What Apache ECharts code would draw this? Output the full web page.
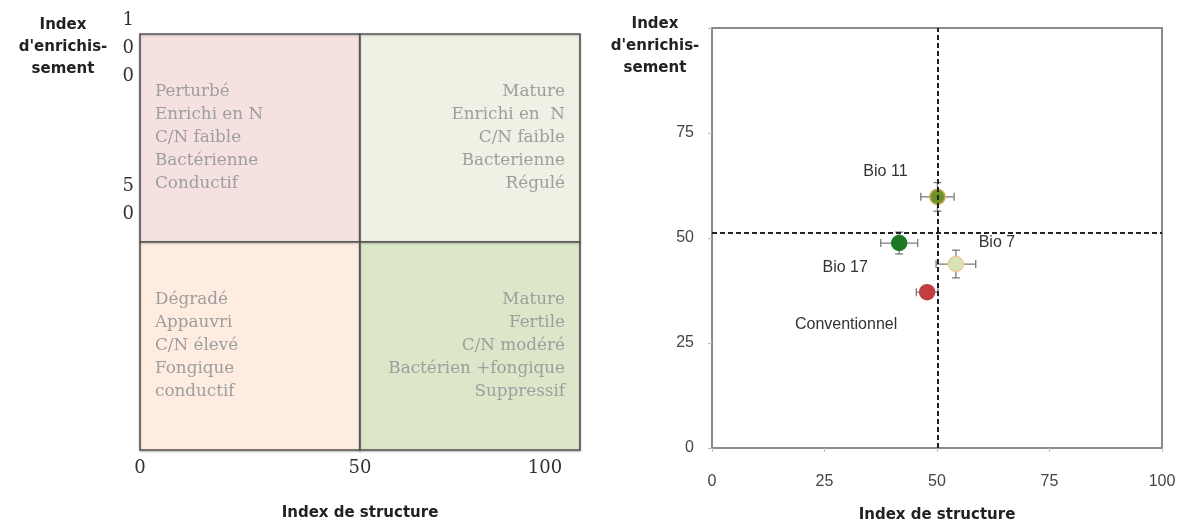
<!DOCTYPE html>
<html><head><meta charset="utf-8">
<script src="https://cdn.jsdelivr.net/npm/echarts@6/dist/echarts.min.js"></script>
<style>html,body{margin:0;padding:0;background:#fff}#c{width:1184px;height:522px}</style>
</head><body><div id="c"></div><script>
// ---- Left panel (quadrant diagram) ----
const leftTicks = [0, 50, 100];
const quadrantX0 = [0, 50, 0, 50];
const quadrantX1 = [50, 100, 50, 100];
const quadrantY0 = [50, 50, 0, 0];
const quadrantY1 = [100, 100, 50, 50];
const quadrantText = [
  ['Perturbé', 'Enrichi en N', 'C/N faible', 'Bactérienne', 'Conductif'],
  ['Mature', 'Enrichi en  N', 'C/N faible', 'Bacterienne', 'Régulé'],
  ['Dégradé', 'Appauvri', 'C/N élevé', 'Fongique', 'conductif'],
  ['Mature', 'Fertile', 'C/N modéré', 'Bactérien +fongique', 'Suppressif']
];
const quadrantColors = ['#f6e1e1', '#eef1e4', '#fdecdf', '#dce6c9'];
const quadrantAlign = ['left', 'right', 'left', 'right'];

// ---- Right panel (scatter with error bars) ----
const groups = ['Bio 11', 'Bio 17', 'Bio 7', 'Conventionnel'];
const structureIdx = [50.1, 41.6, 54.2, 47.8];
const enrichIdx = [59.8, 48.8, 43.8, 37.1];
const structureErr = [3.7, 4.1, 4.4, 2.4];
const enrichErr = [3.4, 2.6, 3.3, 1.0];
const refLineX = 50.2;
const refLineY = 51.2;
const rightTicks = [0, 25, 50, 75, 100];

// styles
const pointColors = ['#6b9428', '#1c7a24', '#d6e4b6', '#c23f40'];
const pointBorders = ['#c9a84a', '#1c7a24', '#f1c99a', '#c23f40'];
const labelOffsets = [[-52, -25], [-54, 25], [41, -21], [-81, 32]];

const yTitle = "Index\nd'enrichis-\nsement";
const xTitle = 'Index de structure';

const serif = '"DejaVu Serif", "Liberation Serif", serif';
const sans = '"Liberation Sans", Arial, sans-serif';
const boldSans = '"DejaVu Sans", sans-serif';

const chart = echarts.init(document.getElementById('c'), null, {renderer: 'canvas'});

const quadData = quadrantX0.map((x0, i) => [x0, quadrantX1[i], quadrantY0[i], quadrantY1[i], i]);

const option = {
  animation: false,
  backgroundColor: '#fff',
  title: [
    {text: yTitle, left: 58, top: 9, textAlign: 'center',
     textStyle: {fontFamily: boldSans, fontWeight: 'bold', fontSize: 15, lineHeight: 22, color: '#222'}},
    {text: yTitle, left: 650, top: 8, textAlign: 'center',
     textStyle: {fontFamily: boldSans, fontWeight: 'bold', fontSize: 15, lineHeight: 22, color: '#222'}}
  ],
  grid: [
    {left: 140, right: 604, top: 34, bottom: 72, show: false, outerBoundsMode: 'none', containLabel: false},
    {left: 712, right: 22, top: 28, bottom: 74, show: true, borderColor: '#8a8a8a', borderWidth: 2,
     backgroundColor: 'transparent', outerBoundsMode: 'none', containLabel: false}
  ],
  xAxis: [
    {gridIndex: 0, type: 'value', min: leftTicks[0], max: leftTicks[2], interval: 50,
     axisLine: {show: false}, axisTick: {show: false}, splitLine: {show: false},
     axisLabel: {margin: 9, fontFamily: serif, fontSize: 18, color: '#333',
       formatter: v => v === 100 ? '{m|' + v + '}' : String(v),
       rich: {m: {fontFamily: serif, fontSize: 18, color: '#333', padding: [0, 70, 0, 0]}}},
     name: xTitle, nameLocation: 'middle', nameGap: 56,
     nameTextStyle: {fontFamily: boldSans, fontWeight: 'bold', fontSize: 15, color: '#222'}},
    {gridIndex: 1, type: 'value', min: rightTicks[0], max: rightTicks[4], interval: 25,
     axisLine: {show: true, lineStyle: {color: '#8a8a8a', width: 2}},
     axisTick: {show: true, length: 4, lineStyle: {color: '#bbb'}},
     splitLine: {show: false},
     axisLabel: {margin: 26, fontFamily: sans, fontSize: 16, color: '#444'},
     name: xTitle, nameLocation: 'middle', nameGap: 60,
     nameTextStyle: {fontFamily: boldSans, fontWeight: 'bold', fontSize: 15, color: '#222'}}
  ],
  yAxis: [
    {gridIndex: 0, type: 'value', min: leftTicks[0], max: leftTicks[2], interval: 50,
     axisLine: {show: false}, axisTick: {show: false}, splitLine: {show: false},
     axisLabel: {margin: 6, fontFamily: serif, fontSize: 18, lineHeight: 28, color: '#333',
       formatter: v => v === 100 ? '\n' + String(v).split('').join('\n')
                    : v === 50 ? String(v).split('').join('\n') + '\n\n\n' : ''}},
    {gridIndex: 1, type: 'value', min: rightTicks[0], max: rightTicks[4], interval: 25,
     axisLine: {show: true, lineStyle: {color: '#8a8a8a', width: 2}},
     axisTick: {show: true, length: 4, lineStyle: {color: '#bbb'}},
     splitLine: {show: false},
     axisLabel: {margin: 18, fontFamily: sans, fontSize: 16, color: '#444', padding: [12, 0, 0, 0],
       formatter: v => v === 100 ? '' : String(v)}}
  ],
  series: [
    {
      type: 'custom', xAxisIndex: 0, yAxisIndex: 0,
      data: quadData,
      renderItem: (params, api) => {
        const i = api.value(4);
        const p0 = api.coord([api.value(0), api.value(3)]);
        const p1 = api.coord([api.value(1), api.value(2)]);
        const w = p1[0] - p0[0], h = p1[1] - p0[1];
        const left = quadrantAlign[i] === 'left';
        return {type: 'group', children: [
          {type: 'rect', shape: {x: p0[0], y: p0[1], width: w, height: h},
           style: {fill: quadrantColors[i], stroke: '#555', lineWidth: 1.6,
                   shadowColor: 'rgba(0,0,0,0.25)', shadowBlur: 2, shadowOffsetY: 1}},
          {type: 'text', z2: 10, style: {
            text: quadrantText[i].join('\n'),
            x: left ? p0[0] + 15 : p1[0] - 15, y: p0[1] + h / 2,
            align: quadrantAlign[i], verticalAlign: 'middle',
            fontFamily: serif, fontSize: 16.8, lineHeight: 23, fill: '#9e9e9e'}}
        ]};
      }
    },
    {
      type: 'custom', xAxisIndex: 1, yAxisIndex: 1, z: 3,
      data: groups.map((g, i) => [structureIdx[i], enrichIdx[i], structureErr[i], enrichErr[i]]),
      renderItem: (params, api) => {
        const x = api.value(0), y = api.value(1), ex = api.value(2), ey = api.value(3);
        const l = api.coord([x - ex, y]), r = api.coord([x + ex, y]);
        const t = api.coord([x, y + ey]), b = api.coord([x, y - ey]);
        const c = 4;
        const st = {stroke: '#7a7a7a', lineWidth: 1.3};
        const ln = (x1, y1, x2, y2) => ({type: 'line', shape: {x1, y1, x2, y2}, style: st});
        return {type: 'group', children: [
          ln(l[0], l[1], r[0], r[1]),
          ln(l[0], l[1] - c, l[0], l[1] + c),
          ln(r[0], r[1] - c, r[0], r[1] + c),
          ln(t[0], t[1], b[0], b[1]),
          ln(t[0] - c, t[1], t[0] + c, t[1]),
          ln(b[0] - c, b[1], b[0] + c, b[1])
        ]};
      }
    },
    {
      type: 'scatter', xAxisIndex: 1, yAxisIndex: 1, z: 4,
      symbolSize: 15,
      data: groups.map((g, i) => ({
        name: g, value: [structureIdx[i], enrichIdx[i]],
        itemStyle: {color: pointColors[i], borderColor: pointBorders[i], borderWidth: 1.5, opacity: 1},
        label: {offset: labelOffsets[i]}
      })),
      label: {show: true, position: 'inside', formatter: p => p.name,
              fontFamily: sans, fontSize: 16, color: '#333'},
      markLine: {
        silent: true, symbol: 'none', animation: false,
        label: {show: false},
        lineStyle: {type: [5, 3], color: '#222', width: 2},
        data: [{xAxis: refLineX}, {yAxis: refLineY}]
      }
    }
  ]
};
chart.setOption(option);
</script></body></html>
